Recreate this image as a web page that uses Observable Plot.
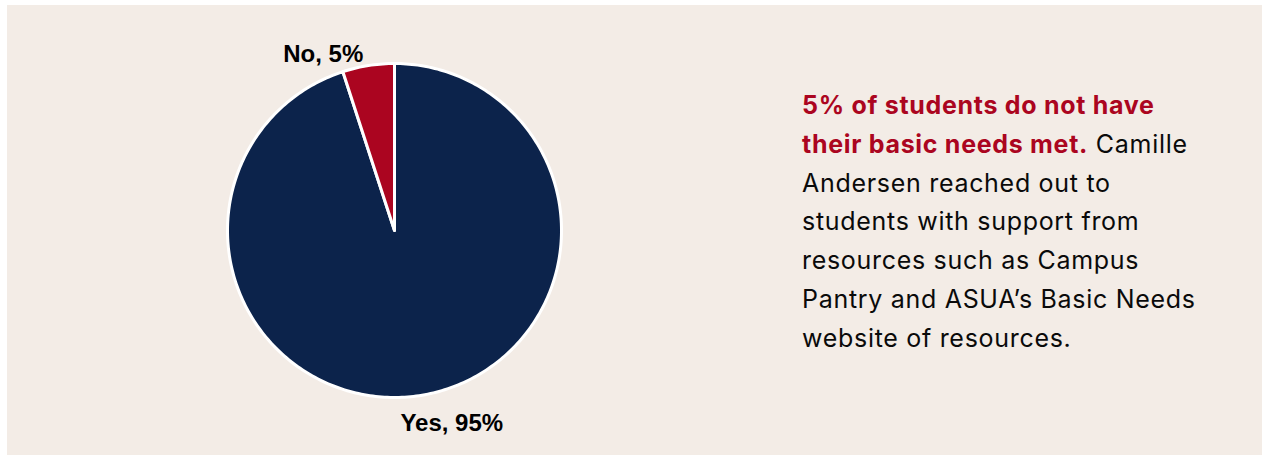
<!DOCTYPE html>
<html>
<head>
<meta charset="utf-8">
<script src="https://cdn.jsdelivr.net/npm/d3@7"></script>
<script src="https://cdn.jsdelivr.net/npm/@observablehq/plot@0.6"></script>
<style>
  html, body { margin: 0; padding: 0; background: #ffffff; }
  #panel { position: absolute; left: 7px; top: 5px; width: 1255px; height: 450px; background: #f3ece6; overflow: hidden; }
  #chart { position: absolute; left: 0; top: 0; }
  #note { position: absolute; left: 795px; top: 81px; width: 450px; font-family: Inter, "Noto Sans", sans-serif; font-size: 25px; letter-spacing: 0.7px; line-height: 38.8px; color: #0a0a0a; }
  #note b { color: #ab0520; font-weight: 700; }
</style>
</head>
<body>
<div id="panel">
  <div id="chart"></div>
  <div id="note"><b>5% of students do not have<br>their basic needs met.</b> Camille<br>Andersen reached out to<br>students with support from<br>resources such as Campus<br>Pantry and ASUA’s Basic Needs<br>website of resources.</div>
</div>
<script>
const categories = ["Yes", "No"];
const values = [95, 5];
const labels = ["Yes, 95%", "No, 5%"];
const colors = ["#0c234b", "#ab0520"];

const pie = d3.pie().sort(null).value(d => d.value);
const arcs = pie(categories.map((c, i) => ({key: c, value: values[i], label: labels[i]})));

// polygon outline of each slice (unit circle, angle measured clockwise from top)
const pts = [];
for (const a of arcs) {
  pts.push({key: a.data.key, x: 0, y: 0});
  const n = Math.max(2, Math.ceil((a.endAngle - a.startAngle) / (Math.PI / 180)));
  for (let k = 0; k <= n; k++) {
    const t = a.startAngle + (a.endAngle - a.startAngle) * k / n;
    pts.push({key: a.data.key, x: Math.sin(t), y: Math.cos(t)});
  }
}
const labelPts = arcs.map(a => {
  const m = (a.startAngle + a.endAngle) / 2;
  return {key: a.data.key, label: a.data.label, x: 1.12 * Math.sin(m), y: 1.12 * Math.cos(m)};
});

const cx = 387, cy = 225, r = 167;
const plot = Plot.plot({
  width: 780,
  height: 450,
  margin: 0,
  style: {background: "transparent", overflow: "visible"},
  x: {domain: [-1, 1], range: [cx - r, cx + r], axis: null},
  y: {domain: [-1, 1], range: [cy + r, cy - r], axis: null},
  color: {domain: categories, range: colors},
  marks: [
    Plot.line(pts, {x: "x", y: "y", z: "key", fill: "key", stroke: "#ffffff", strokeWidth: 3, strokeLinejoin: "round", curve: "linear-closed"}),
    Plot.text(labelPts.filter(d => d.key === "No"), {x: "x", y: "y", text: "label", dx: -42, dy: 9, fontSize: 24, fontWeight: "bold", fill: "#000", fontFamily: "'Liberation Sans', Arial, sans-serif"}),
    Plot.text(labelPts.filter(d => d.key === "Yes"), {x: "x", y: "y", text: "label", dx: 28, dy: 8, fontSize: 24, fontWeight: "bold", fill: "#000", fontFamily: "'Liberation Sans', Arial, sans-serif"})
  ]
});
document.getElementById("chart").appendChild(plot);
</script>
</body>
</html>
